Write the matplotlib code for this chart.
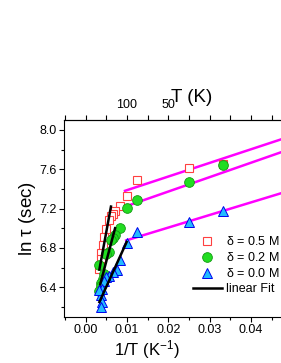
import matplotlib
matplotlib.use("Agg")
import matplotlib.pyplot as plt
import numpy as np
from matplotlib.ticker import MultipleLocator

plt.rcParams['font.family'] = ['Liberation Sans', 'DejaVu Sans']
plt.rcParams['mathtext.fontset'] = 'stix'
plt.rcParams['mathtext.default'] = 'regular'

# data (x = 1/T in 1/K, y = ln tau)
x05 = [0.0333, 0.0250, 0.0125, 0.0100, 0.0083, 0.0071, 0.0067, 0.0062, 0.0056,
       0.0050, 0.0045, 0.0042, 0.0038, 0.0036, 0.0034, 0.0033]
y05 = [7.65, 7.61, 7.49, 7.33, 7.23, 7.17, 7.14, 7.12, 7.08,
       6.99, 6.91, 6.83, 6.75, 6.69, 6.62, 6.59]

x02 = [0.0333, 0.0250, 0.0125, 0.0100, 0.0083, 0.0071, 0.0067, 0.0062, 0.0056,
       0.0050, 0.0045, 0.0042, 0.0038, 0.0036, 0.0033, 0.0033]
y02 = [7.64, 7.47, 7.29, 7.21, 7.00, 6.93, 6.90, 6.88, 6.76,
       6.74, 6.53, 6.48, 6.44, 6.41, 6.63, 6.36]

x00 = [0.0333, 0.0250, 0.0125, 0.0100, 0.0083, 0.0075, 0.0067, 0.0056,
       0.0050, 0.0045, 0.0040, 0.0036, 0.0033, 0.0040, 0.0036]
y00 = [7.17, 7.06, 6.96, 6.85, 6.68, 6.58, 6.55, 6.51,
       6.50, 6.46, 6.38, 6.32, 6.37, 6.25, 6.20]

# linear fits: (x start, x end, y start, y end)
fit_hi = [(0.0095, 0.055, 7.38, 8.01),     # delta 0.5, low T
          (0.0099, 0.055, 7.225, 7.885),   # delta 0.2, low T
          (0.0098, 0.055, 6.876, 7.454)]   # delta 0.0, low T
fit_lo = [(0.0033, 0.0061, 6.58, 7.22),
          (0.0035, 0.0071, 6.43, 7.00),
          (0.0033, 0.0099, 6.25, 6.86)]

top_ticks = [0.01, 0.02]
top_labels = ['100', '50']

fig = plt.figure(figsize=(2.81, 3.63), dpi=100)
ax = fig.add_axes([0.2288, 0.1275, 0.8847, 0.5419])

for x0, x1, y0, y1 in fit_hi:
    ax.plot([x0, x1], [y0, y1], color='#ff00ff', lw=1.8, zorder=2)
for x0, x1, y0, y1 in fit_lo:
    ax.plot([x0, x1], [y0, y1], color='black', lw=1.8, zorder=4)

ax.plot(x05, y05, ls='none', marker='s', ms=5.5, mfc='white', mec='#ff4040',
        mew=0.8, zorder=3, label=r'$\delta$ = 0.5 M')
ax.plot(x02, y02, ls='none', marker='o', ms=7, mfc='#22dd22', mec='#129a12',
        mew=0.6, zorder=3, label=r'$\delta$ = 0.2 M')
ax.plot(x00, y00, ls='none', marker='^', ms=7, mfc='#22bbff', mec='#0000ee',
        mew=0.7, zorder=3, label=r'$\delta$ = 0.0 M')
ax.plot([], [], color='black', lw=1.8, label='linear Fit')

ax.set_xlim(-0.0052, 0.055)
ax.set_ylim(6.1, 8.1)
ax.xaxis.set_major_locator(MultipleLocator(0.01))
ax.xaxis.set_minor_locator(MultipleLocator(0.005))
ax.yaxis.set_major_locator(MultipleLocator(0.4))
ax.yaxis.set_minor_locator(MultipleLocator(0.2))
ax.xaxis.set_major_formatter(matplotlib.ticker.FormatStrFormatter('%.2f'))
ax.yaxis.set_major_formatter(matplotlib.ticker.FormatStrFormatter('%.1f'))
ax.tick_params(which='major', direction='out', length=3.5, width=0.8, labelsize=9, pad=2)
ax.tick_params(which='minor', direction='out', length=2, width=0.8)
for s in ax.spines.values():
    s.set_linewidth(0.8)

top = ax.secondary_xaxis('top')
top.set_xticks(top_ticks)
top.set_xticklabels(top_labels)
top.xaxis.set_minor_locator(MultipleLocator(0.005))
top.tick_params(which='major', direction='out', length=3.5, width=0.8, labelsize=9, pad=3)
top.tick_params(which='minor', direction='out', length=3.5, width=0.8)
top.spines['top'].set_linewidth(0.8)

ax.set_xlabel(r'1/T (K$^{-1}$)', fontsize=12)
ax.xaxis.label.set_va('center')
ax.xaxis.set_label_coords(0.333, -0.165)
ax.set_ylabel(r'ln $\tau$ (sec)', fontsize=13.5, labelpad=1)
fig.text(191.5 / 281, 1 - 97 / 363, 'T (K)', fontsize=13.5, ha='center', va='center')

ax.legend(loc='upper left', bbox_to_anchor=(193 / 281, 1 - 235 / 363),
          bbox_transform=fig.transFigure, frameon=False, fontsize=9,
          borderpad=0, borderaxespad=0, handlelength=2.3, handletextpad=0.3,
          labelspacing=0.25, numpoints=1)

fig.savefig('out.png', dpi=100)
